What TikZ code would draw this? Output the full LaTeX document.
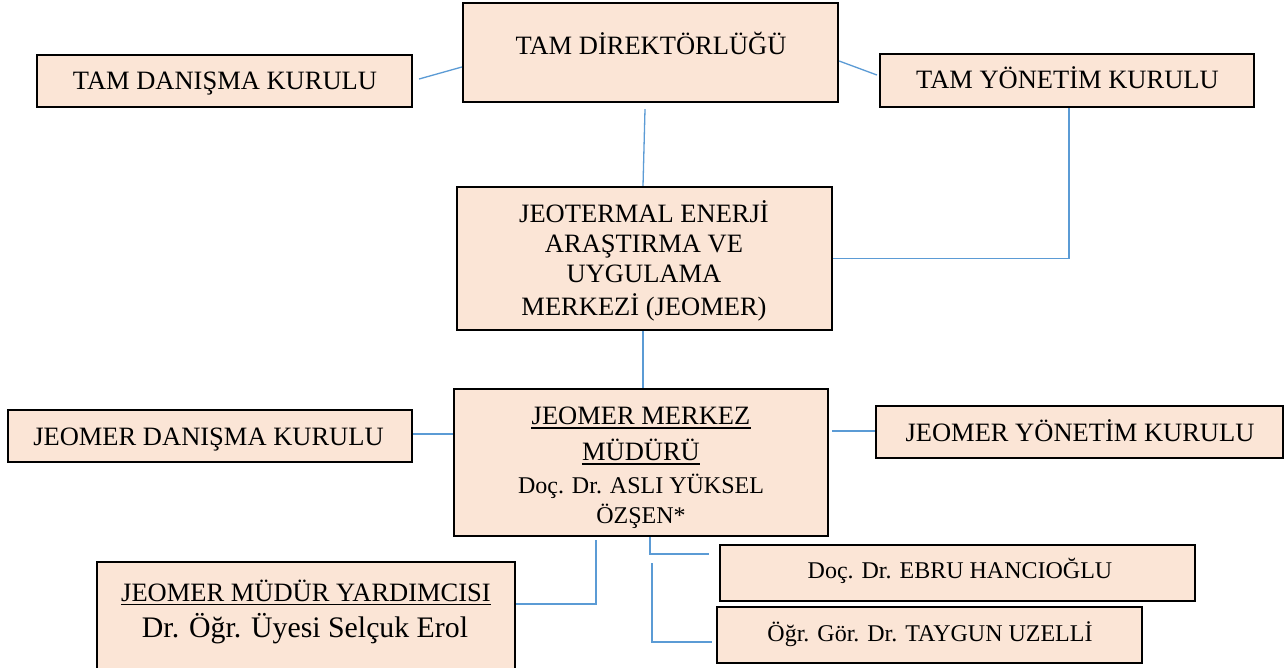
\documentclass[tikz,border=0pt]{standalone}
\usepackage{fontspec}
\setmainfont{Liberation Serif}
\usetikzlibrary{calc}
\definecolor{boxfill}{HTML}{FBE5D6}
\definecolor{linkblue}{HTML}{5B9BD5}
\begin{document}
\begin{tikzpicture}[x=1pt,y=-1pt,
  box/.style={draw=black, line width=2.2pt, fill=boxfill, rectangle, inner sep=0pt},
  txt/.style={anchor=base, inner sep=0pt, font=\fontsize{26.5}{30}\selectfont},
  txts/.style={anchor=base, inner sep=0pt, font=\fontsize{24}{28}\selectfont},
  txtl/.style={anchor=base, inner sep=0pt, font=\fontsize{29.8}{34}\selectfont},
  link/.style={draw=linkblue, line width=1.3pt},
  uline/.style={draw=black, line width=1.4pt}]
\clip (0,0) rectangle (1287,668);
\fill[white] (0,0) rectangle (1287,668);

% boxes
\node[box, minimum width=375, minimum height=99]  (tdir) at (650.5,52.5) {};
\node[box, minimum width=375, minimum height=52]  (tdk)  at (224.5,81) {};
\node[box, minimum width=374, minimum height=53]  (tyk)  at (1067,80.5) {};
\node[box, minimum width=375, minimum height=143] (jeo)  at (644.5,258.5) {};
\node[box, minimum width=374, minimum height=147] (jmm)  at (641,462.5) {};
\node[box, minimum width=404, minimum height=52]  (jdk)  at (210,436) {};
\node[box, minimum width=407, minimum height=52]  (jyk)  at (1079.5,432) {};
\node[box, minimum width=418, minimum height=128] (jmy)  at (306,626) {};
\node[box, minimum width=475, minimum height=56]  (ebru) at (957.5,573) {};
\node[box, minimum width=425, minimum height=56]  (tay)  at (929.5,635) {};

% texts
\node[txt] (tdirT) at (651,55) {TAM DİREKTÖRLÜĞÜ};
\node[txt] (tdkT) at (225,90) {TAM DANIŞMA KURULU};
\node[txt] (tykT) at (1067.5,89) {TAM YÖNETİM KURULU};
\node[txt] (jeo1) at (644,223) {JEOTERMAL ENERJİ};
\node[txt] (jeo2) at (644,253) {ARAŞTIRMA VE};
\node[txt] (jeo3) at (644,283) {UYGULAMA};
\node[txt] (jeo4) at (644,315) {MERKEZİ (JEOMER)};
\node[txt] (jmm1) at (641,424) {JEOMER MERKEZ};
\node[txt] (jmm2) at (641,460) {MÜDÜRÜ};
\node[txts] (jmm3) at (641,493) {Doç. Dr. ASLI YÜKSEL};
\node[txts] (jmm4) at (641,523) {ÖZŞEN*};
\node[txt] (jdkT) at (208.5,445) {JEOMER DANIŞMA KURULU};
\node[txt] (jykT) at (1080,441) {JEOMER YÖNETİM KURULU};
\node[txt] (jmy1) at (306,601) {JEOMER MÜDÜR YARDIMCISI};
\node[txtl] (jmy2) at (305,637) {Dr. Öğr. Üyesi Selçuk Erol};
\node[txts] (ebruT) at (960,578) {Doç. Dr. EBRU HANCIOĞLU};
\node[txts] (tayT) at (930,641) {Öğr. Gör. Dr. TAYGUN UZELLİ};

% underlines
\draw[uline] ($(jmm1.base west)+(0,4)$) -- ($(jmm1.base east)+(0,4)$);
\draw[uline] ($(jmm2.base west)+(0,4)$) -- ($(jmm2.base east)+(0,4)$);
\draw[uline] ($(jmy1.base west)+(0,3.5)$) -- ($(jmy1.base east)+(0,3.5)$);

% connectors
\draw[link] ($(tdk.east)+(6,-2)$) -- ($(tdir.west)+(0,14.5)$);
\draw[link] ($(tdir.east)+(0,8.5)$) -- ($(tyk.west)+(-2,-5.5)$);
\draw[link] ($(tdir.south)+(-5.5,6)$) -- ($(jeo.north)+(-1.5,0)$);
\draw[link] ($(tyk.south)+(2,0)$) |- (jeo.east);
\draw[link] ($(jeo.south)+(-1.5,0)$) -- ($(jmm.north)+(2,0)$);
\draw[link] ($(jdk.east)+(0,-2)$) -- ($(jmm.west)+(0,-28.5)$);
\draw[link] ($(jmm.east)+(3,-31.5)$) -- ($(jyk.west)+(0,-1)$);
\draw[link] ($(jmm.south)+(-45,3)$) |- ($(jmy.north east)+(0,43)$);
\draw[link] ($(jmm.south)+(9,0)$) |- ($(ebru.west)+(-10,-19)$);
\coordinate (tfree) at ($(jmm.south)+(11,26)$);
\draw[link] (tfree) |- ($(tay.west)+(-4,7)$);
\end{tikzpicture}
\end{document}
